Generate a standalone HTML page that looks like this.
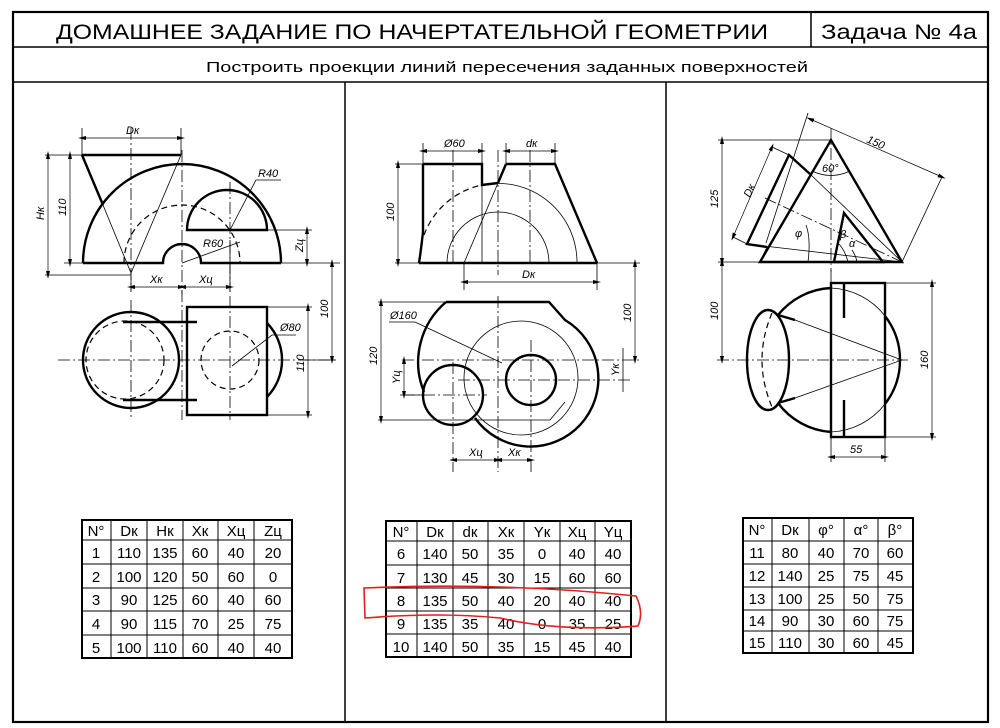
<!DOCTYPE html>
<html><head><meta charset="utf-8"><style>
html,body{margin:0;padding:0;background:#fff;}
svg{display:block}
text{font-family:"Liberation Sans",sans-serif;fill:#000}
.t{stroke:#000;stroke-width:0.8;fill:none}
.k{stroke:#000;stroke-width:2.4;fill:none}
.d{stroke:#000;stroke-width:1.2;fill:none;stroke-dasharray:6 4}
.c{stroke:#000;stroke-width:0.8;fill:none;stroke-dasharray:12 3 2 3}
.m{stroke:#000;stroke-width:0.7;fill:none;marker-start:url(#a);marker-end:url(#a)}
.i{font-style:italic;font-size:11px}
.tb text{font-size:15px;text-anchor:middle}
</style></head><body>
<svg width="1000" height="728" viewBox="0 0 1000 728">
<defs><marker id="a" viewBox="0 0 10 10" refX="5" refY="5" markerWidth="8" markerHeight="8" orient="auto-start-reverse" markerUnits="userSpaceOnUse"><path d="M10,5 L0,2.5 L0,7.5 z" fill="#000"/></marker></defs>
<!-- frame -->
<rect x="13" y="12" width="975" height="710" fill="none" stroke="#000" stroke-width="2.2"/>
<line x1="13" y1="47" x2="988" y2="47" stroke="#000" stroke-width="1.5"/>
<line x1="13" y1="82" x2="988" y2="82" stroke="#000" stroke-width="1.5"/>
<line x1="811" y1="12" x2="811" y2="47" stroke="#000" stroke-width="1.5"/>
<line x1="345" y1="82" x2="345" y2="722" stroke="#000" stroke-width="1.5"/>
<line x1="666" y1="82" x2="666" y2="722" stroke="#000" stroke-width="1.5"/>
<text x="412" y="39" font-size="21" text-anchor="middle" textLength="712" lengthAdjust="spacingAndGlyphs">ДОМАШНЕЕ ЗАДАНИЕ ПО НАЧЕРТАТЕЛЬНОЙ ГЕОМЕТРИИ</text>
<text x="899" y="39" font-size="21" text-anchor="middle" textLength="156" lengthAdjust="spacingAndGlyphs">Задача № 4а</text>
<text x="507" y="72" font-size="15" text-anchor="middle" textLength="602" lengthAdjust="spacingAndGlyphs">Построить проекции линий пересечения заданных поверхностей</text>

<!-- LEFT PANEL -->
<path class="k" d="M83,263 A99,99 0 0 1 281,263"/>
<path class="k" d="M83,263 H163 A19,19 0 0 1 201,263 H281"/>
<path class="d" d="M124,263 A58,58 0 0 1 240,263"/>
<path class="k" d="M187,230 H267 A40,40 0 0 0 187,230 z"/>
<path class="k" d="M82,155 H181"/>
<path class="k" d="M82,155 L103,205"/>
<path class="t" d="M103,205 L131,273 L181,155"/>
<path class="c" d="M131,128 V290 M182,150 V295 M230,182 V292"/>
<path class="t" d="M82,155 V128 M181,155 V128 M45,155 H82 M45,275 H131 M64,263 H83 M267,230 H312 M281,263 H340 M131,273 V292 M230,240 V292"/>
<path class="m" d="M82,138 H181"/><text class="i" x="126" y="134">Dк</text>
<path class="m" d="M48,155 V275"/><text class="i" transform="translate(44,220) rotate(-90)">Hк</text>
<path class="m" d="M70,155 V263"/><text class="i" transform="translate(66,216) rotate(-90)">110</text>
<path class="m" d="M307,230 V263"/><text class="i" transform="translate(303,252) rotate(-90)">Zц</text>
<path class="m" d="M131,287 H182"/><text class="i" x="150" y="283">Xк</text>
<path class="m" d="M182,287 H230"/><text class="i" x="199" y="283">Xц</text>
<path class="t" d="M230,230 L256,180 H281"/><text class="i" x="258" y="177">R40</text>
<path class="t" d="M182,263 L240,242"/><text class="i" x="203" y="247">R60</text>
<path class="m" d="M332,263 V360"/><text class="i" transform="translate(328,318) rotate(-90)">100</text>
<!-- left plan -->
<path class="c" d="M58,360 H336 M131,300 V420 M182,290 V420 M230,296 V420"/>
<circle class="k" cx="131" cy="360" r="48"/>
<circle class="d" cx="125" cy="360" r="39"/>
<path class="k" d="M123,322 H197 M123,400 H197"/>
<rect class="k" x="187" y="307" width="80" height="108" fill="#fff"/>
<circle class="d" cx="230" cy="360" r="29"/>
<path class="k" d="M267,323 A53,53 0 0 1 267,397"/>
<path class="t" d="M232,366 L272,335 H296"/><text class="i" x="280" y="331">Ø80</text>
<path class="t" d="M267,307 H312 M267,415 H312 M300,360 H336"/>
<path class="m" d="M308,307 V415"/><text class="i" transform="translate(304,372) rotate(-90)">110</text>

<!-- MIDDLE PANEL -->
<path class="k" d="M419,263 H597"/>
<path class="k" d="M423,164 H482 V185 L498,183"/>
<path class="k" d="M423,164 V232 Q421,250 419,263"/>
<path class="t" d="M482,185 V263"/>
<path class="k" d="M506,164 H555 L597,263"/>
<path class="k" d="M506,164 L498,183"/>
<path class="t" d="M498,183 L464,263"/>
<path class="d" d="M424,235 A79,79 0 0 1 482,185"/>
<path class="t" d="M482,185 A79,79 0 0 1 577,263"/>
<path class="t" d="M447,263 A51,51 0 0 1 549,263"/>
<path class="c" d="M498,150 V275 M453,150 V263 M530,150 V263"/>
<path class="t" d="M423,164 V143 M482,164 V143 M506,164 V143 M555,164 V143 M395,164 H423 M395,263 H419 M464,263 V290 M597,263 V290 M597,263 H640"/>
<path class="m" d="M423,151 H482"/><text class="i" x="444" y="147">Ø60</text>
<path class="m" d="M506,151 H555"/><text class="i" x="526" y="147">dк</text>
<path class="m" d="M398,164 V263"/><text class="i" transform="translate(394,221) rotate(-90)">100</text>
<path class="m" d="M464,282 H597"/><text class="i" x="522" y="278">Dк</text>
<path class="m" d="M635,263 V360"/><text class="i" transform="translate(631,322) rotate(-90)">100</text>
<!-- middle plan -->
<circle class="t" cx="521" cy="378" r="57"/>
<path class="t" d="M378,420 H550 L565,402"/>
<path class="k" d="M446,302 H549 L565,320 A68,68 0 1 1 475,418"/>
<path class="k" d="M446,302 A79,79 0 0 0 424,392"/>
<circle class="k" cx="453" cy="395" r="30"/>
<circle class="k" cx="531" cy="380" r="25"/>
<path class="c" d="M402,360 H640 M458,380 H630 M403,395 H487 M498,296 V472 M453,362 V472 M531,340 V472"/>
<path class="t" d="M389,322 H415 L502,363"/><text class="i" x="390" y="319">Ø160</text>
<path class="t" d="M378,302 H446 M400,395 H425"/>
<path class="m" d="M381,302 V420"/><text class="i" transform="translate(377,365) rotate(-90)">120</text>
<path class="m" d="M404,360 V395"/><text class="i" transform="translate(400,384) rotate(-90)">Yц</text>
<path class="t" d="M623,348 V392"/><text class="i" transform="translate(619,376) rotate(-90)">Yк</text>
<path class="m" d="M453,460 H498"/><text class="i" x="469" y="456">Xц</text>
<path class="m" d="M498,460 H531"/><text class="i" x="508" y="456">Xк</text>

<!-- RIGHT PANEL -->
<path class="k" d="M760,262 H902 L831,140 Z"/>
<path class="k" d="M844,213 L834,262 H883 Z"/>
<path class="k" d="M767,247 L747,244 L789,155 L810,174"/>
<path class="t" d="M747,244 L902,262 M810,174 L902,262 M767,247 L760,262"/>
<path class="c" d="M765,198 L902,262 M831,128 V272"/>
<path class="t" d="M718,262 H760 M718,140 H831 M808,113 L766,243 M902,262 L942,177 M772,147 L789,155 M733,237 L747,244"/>
<path class="m" d="M810,119 L942,177"/><text class="i" transform="translate(866,142) rotate(24)">150</text>
<path class="m" d="M722,140 V262"/><text class="i" transform="translate(718,208) rotate(-90)">125</text>
<path class="m" d="M772,147 L733,237"/><text class="i" transform="translate(750,198) rotate(-66)">Dк</text>
<path class="t" d="M812,171 Q831,180 850,171"/><text class="i" x="822" y="172">60°</text>
<path class="t" d="M808,262 Q811,238 806,225"/><text class="i" x="795" y="237">φ</text>
<text class="i" x="840" y="238">β</text><text class="i" x="849" y="247">α</text>
<path class="t" d="M838,243 Q845,250 848,262 M852,250 Q856,256 857,262"/>
<!-- right plan -->
<path class="c" d="M717,360 H908 M831,270 V440"/>
<path class="k" d="M831,288 A72,72 0 0 0 778,315 M778,403 A72,72 0 0 0 831,432"/>
<path class="k" d="M885,316 A72,72 0 0 1 885,404"/>
<path class="t" d="M831,288 A72,72 0 0 1 885,316 M885,404 A72,72 0 0 1 831,432"/>
<rect class="k" x="831" y="283" width="54" height="154"/>
<path class="k" d="M844,283 V318 M844,400 V437"/>
<ellipse class="k" cx="768" cy="360" rx="21" ry="50"/>
<path class="d" d="M772,313 Q752,360 772,407"/>
<path class="k" d="M778,315 L795,320 M778,403 L795,398"/>
<path class="t" d="M795,320 L902,360 L795,398"/>
<path class="t" d="M885,283 H936 M885,437 H936 M831,437 V462 M885,437 V462 M718,262 V262"/>
<path class="m" d="M932,283 V437"/><text class="i" transform="translate(928,369) rotate(-90)">160</text>
<path class="m" d="M722,262 V360"/><text class="i" transform="translate(718,320) rotate(-90)">100</text>
<path class="m" d="M831,457 H885"/><text class="i" x="850" y="453">55</text>

<!-- TABLES -->
<g class="tb" stroke="#000">
<g fill="none" stroke-width="1"><path d="M111,520V658M147,520V658M183,520V658M218,520V658M254,520V658M82,540H292M82,564H292M82,588H292M82,611H292M82,635H292"/><rect x="82" y="520" width="210" height="138" stroke-width="2"/></g>
</g>
<g class="tb">
<text x="96" y="536">N°</text><text x="129" y="536">Dк</text><text x="165" y="536">Hк</text><text x="200" y="536">Xк</text><text x="236" y="536">Xц</text><text x="273" y="536">Zц</text>
<text x="96" y="558">1</text><text x="129" y="558">110</text><text x="165" y="558">135</text><text x="200" y="558">60</text><text x="236" y="558">40</text><text x="273" y="558">20</text>
<text x="96" y="582">2</text><text x="129" y="582">100</text><text x="165" y="582">120</text><text x="200" y="582">50</text><text x="236" y="582">60</text><text x="273" y="582">0</text>
<text x="96" y="605">3</text><text x="129" y="605">90</text><text x="165" y="605">125</text><text x="200" y="605">60</text><text x="236" y="605">40</text><text x="273" y="605">60</text>
<text x="96" y="629">4</text><text x="129" y="629">90</text><text x="165" y="629">115</text><text x="200" y="629">70</text><text x="236" y="629">25</text><text x="273" y="629">75</text>
<text x="96" y="653">5</text><text x="129" y="653">100</text><text x="165" y="653">110</text><text x="200" y="653">60</text><text x="236" y="653">40</text><text x="273" y="653">40</text>
</g>
<g fill="none" stroke="#000" stroke-width="1"><path d="M417,521V657M453,521V657M488,521V657M524,521V657M560,521V657M595,521V657M386,541H631M386,565H631M386,588H631M386,611H631M386,634H631"/><rect x="386" y="521" width="245" height="136" stroke-width="2"/></g>
<g class="tb">
<text x="401" y="537">N°</text><text x="435" y="537">Dк</text><text x="470" y="537">dк</text><text x="506" y="537">Xк</text><text x="542" y="537">Yк</text><text x="577" y="537">Xц</text><text x="613" y="537">Yц</text>
<text x="401" y="559">6</text><text x="435" y="559">140</text><text x="470" y="559">50</text><text x="506" y="559">35</text><text x="542" y="559">0</text><text x="577" y="559">40</text><text x="613" y="559">40</text>
<text x="401" y="583">7</text><text x="435" y="583">130</text><text x="470" y="583">45</text><text x="506" y="583">30</text><text x="542" y="583">15</text><text x="577" y="583">60</text><text x="613" y="583">60</text>
<text x="401" y="606">8</text><text x="435" y="606">135</text><text x="470" y="606">50</text><text x="506" y="606">40</text><text x="542" y="606">20</text><text x="577" y="606">40</text><text x="613" y="606">40</text>
<text x="401" y="629">9</text><text x="435" y="629">135</text><text x="470" y="629">35</text><text x="506" y="629">40</text><text x="542" y="629">0</text><text x="577" y="629">35</text><text x="613" y="629">25</text>
<text x="401" y="652">10</text><text x="435" y="652">140</text><text x="470" y="652">50</text><text x="506" y="652">35</text><text x="542" y="652">15</text><text x="577" y="652">45</text><text x="613" y="652">40</text>
</g>
<path d="M364,588 Q500,582 636,596 Q644,612 638,626 Q560,632 500,618 Q440,612 365,618 Z" fill="none" stroke="#e0201c" stroke-width="1.6"/>
<g fill="none" stroke="#000" stroke-width="1"><path d="M772,518V653M809,518V653M844,518V653M878,518V653M743,541H913M743,564H913M743,587H913M743,610H913M743,631H913"/><rect x="743" y="518" width="170" height="135" stroke-width="2"/></g>
<g class="tb">
<text x="757" y="535">N°</text><text x="790" y="535">Dк</text><text x="826" y="535">φ°</text><text x="861" y="535">α°</text><text x="895" y="535">β°</text>
<text x="757" y="558">11</text><text x="790" y="558">80</text><text x="826" y="558">40</text><text x="861" y="558">70</text><text x="895" y="558">60</text>
<text x="757" y="581">12</text><text x="790" y="581">140</text><text x="826" y="581">25</text><text x="861" y="581">75</text><text x="895" y="581">45</text>
<text x="757" y="604">13</text><text x="790" y="604">100</text><text x="826" y="604">25</text><text x="861" y="604">50</text><text x="895" y="604">75</text>
<text x="757" y="626">14</text><text x="790" y="626">90</text><text x="826" y="626">30</text><text x="861" y="626">60</text><text x="895" y="626">75</text>
<text x="757" y="648">15</text><text x="790" y="648">110</text><text x="826" y="648">30</text><text x="861" y="648">60</text><text x="895" y="648">45</text>
</g>
</svg>
</body></html>
